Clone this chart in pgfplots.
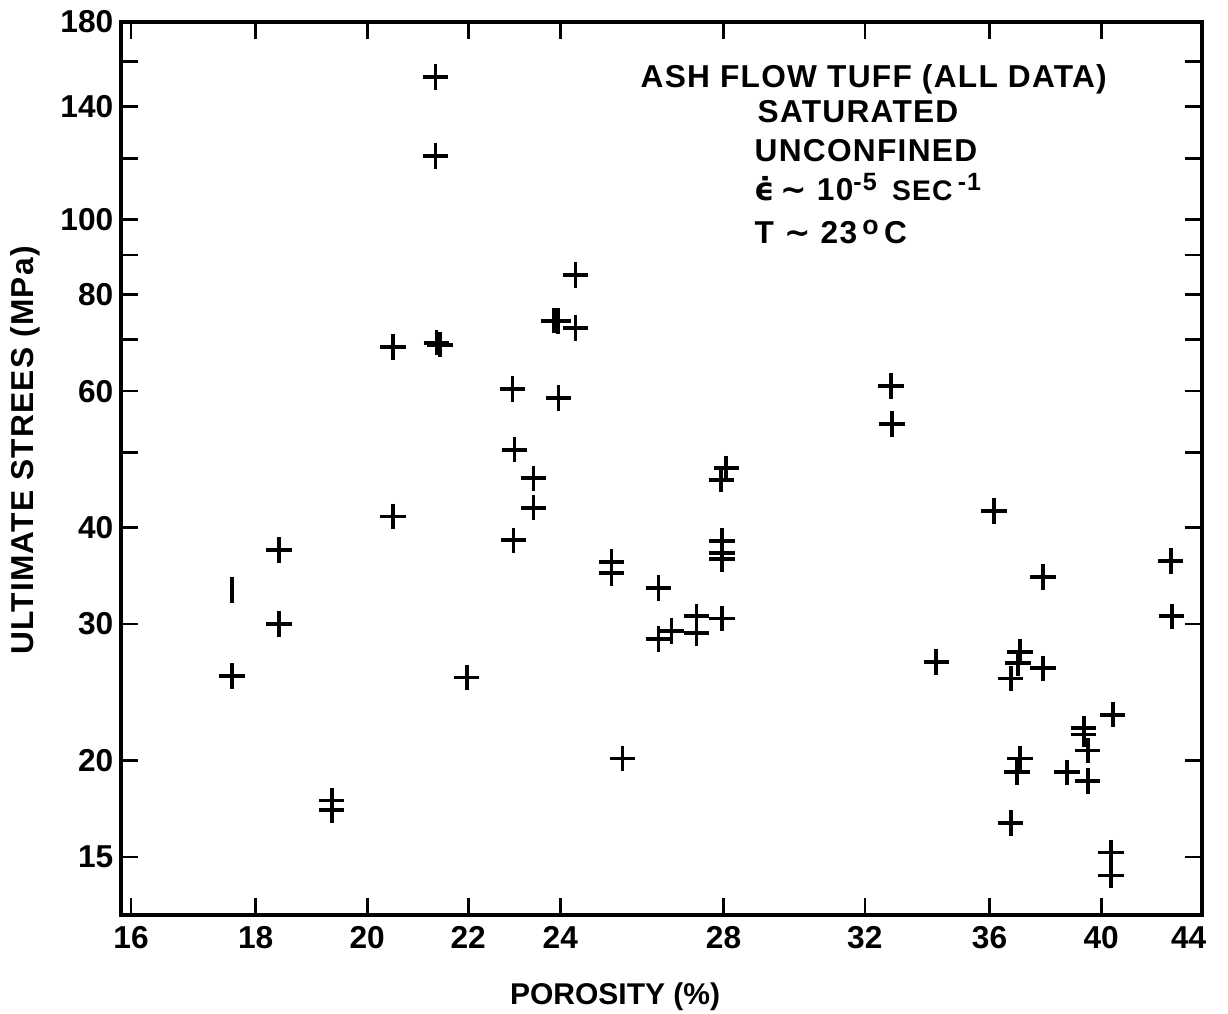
\documentclass[border=0pt]{standalone}
\usepackage{fontspec}
\setmainfont{Liberation Sans}
\newfontfamily\spaced[LetterSpace=4]{Liberation Sans}
\newfontfamily\dv{DejaVu Sans}
\usepackage{pgfplots}
\pgfplotsset{compat=1.18}
\begin{document}
\begin{tikzpicture}
\begin{axis}[
  scale only axis,
  width=324.3pt, height=267.9pt,
  xmode=log, ymode=log,
  xmin=15.85, xmax=44, ymin=12.62, ymax=180,
  axis line style={line width=1.2pt},
  tick align=inside,
  major tick length=5pt,
  tick style={line width=0.8pt, black},
  xtick={16,18,20,22,24,28,32,36,40},
  xticklabels={16,18,20,22,24,28,32,36,40},
  extra x ticks={44},
  extra x tick labels={44},
  extra x tick style={major tick length=0pt, xticklabel style={xshift=-4pt}},
  ytick={15,20,30,40,50,60,70,80,90,100,120,140,160,180},
  yticklabels={15,20,30,40,,60,,80,,100,,140,,180},
  minor tick num=0,
  log ticks with fixed point,
  /pgf/number format/assume math mode=true,
  ticklabel style={font=\bfseries\fontsize{9.5}{11}\selectfont},
  yticklabel style={xshift=1.2pt},
  ylabel={ULTIMATE STREES (MPa)},
  ylabel style={at={(axis description cs:-0.0888,0.52)}, anchor=center, font=\spaced\bfseries\fontsize{9.5}{11}\selectfont},
  xlabel={POROSITY (\%)},
  xlabel style={at={(axis description cs:0.457,-0.0918)}, anchor=center, font=\bfseries\fontsize{9}{11}\selectfont},
  clip=false,
]
\addplot[only marks, mark=+, mark size=3.8pt, line width=1.1pt, black] coordinates {
(17.6,25.7) (18.4,37.4) (18.4,30.0) (19.34,17.75) (19.34,17.25)
(20.49,41.3) (20.49,68.4) (21.33,152.8) (21.33,120.8) (21.35,69.3) (21.42,68.9)
(21.97,25.6) (22.94,60.4) (22.98,50.4) (22.96,38.5) (23.4,46.3) (23.4,42.4)
(23.85,74.0) (23.95,73.9) (23.96,58.8) (24.35,84.8) (24.35,72.4)
(25.19,36.1) (25.19,34.9) (25.45,20.1) (26.33,33.4) (26.33,28.7) (26.66,29.4)
(27.29,30.7) (27.29,29.2) (27.94,46.1) (28.07,47.7) (27.96,38.4) (27.96,37.1)
(27.96,36.4) (27.96,30.5)
(32.8,60.9) (32.83,54.4) (34.23,26.8) (36.15,42.0) (36.73,25.5) (36.73,16.6)
(36.95,19.3) (37.05,27.6) (36.98,26.7) (37.05,20.1) (37.86,34.5) (37.86,26.3)
(38.73,19.3) (39.35,22.0) (39.35,21.6) (39.5,20.6) (39.5,18.8)
(40.44,22.9) (40.37,15.2) (40.37,14.2) (42.72,36.2) (42.76,30.7)
};
\addplot[only marks, mark=-, mark options={rotate=90}, mark size=3.8pt, line width=1.1pt, black] coordinates {(17.6,33.2)};
\end{axis}
\begin{scope}[every node/.style={anchor=base west, font=\spaced\bfseries\fontsize{9.5}{11}\selectfont, inner sep=0pt}]
\node at ([shift={(155.7pt,248.4pt)}]current axis.south west) {ASH FLOW TUFF (ALL DATA)};
\node at ([shift={(190.8pt,237.9pt)}]current axis.south west) {SATURATED};
\node at ([shift={(189.9pt,226.2pt)}]current axis.south west) {UNCONFINED};
\node at ([shift={(189.9pt,214.5pt)}]current axis.south west) {{\dv\bfseries ϵ̇}\,{\dv\bfseries ∼} 10\raisebox{3pt}{\fontsize{7.5}{8}\selectfont -5}\, {\fontsize{8.5}{10}\selectfont SEC}\,\raisebox{3pt}{\fontsize{7.5}{8}\selectfont -1}};
\node at ([shift={(189.9pt,201.6pt)}]current axis.south west) {T {\dv\bfseries ∼} 23\,\raisebox{2.6pt}{\fontsize{8}{9}\selectfont o}\,C};
\end{scope}
\pgfresetboundingbox
\path ([shift={(-36.3pt,-29.4pt)}]current axis.south west) rectangle ([shift={(7.8pt,6.6pt)}]current axis.north east);
\end{tikzpicture}
\end{document}
